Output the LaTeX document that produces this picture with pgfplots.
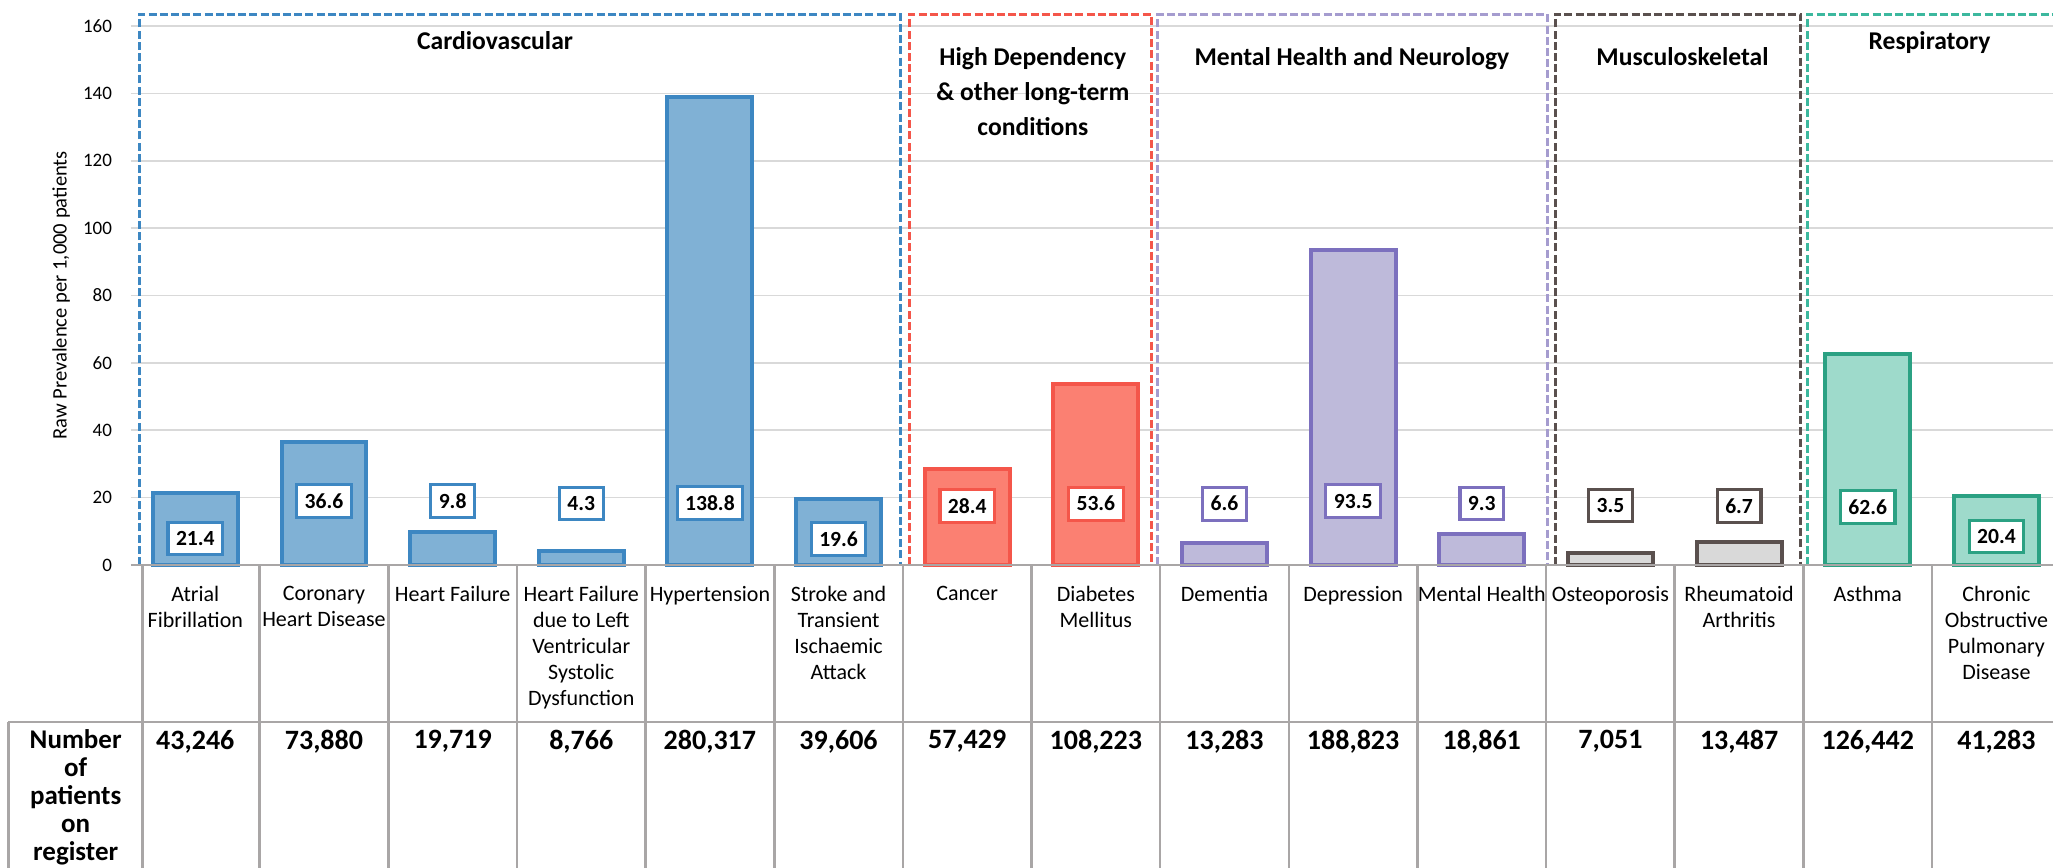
\documentclass[border=0pt]{standalone}
\usepackage{pgfplots}
\pgfplotsset{compat=1.18}
\usepackage{pgfplotstable}
\usepackage{fontspec}
\setmainfont{Carlito}

\definecolor{cvF}{HTML}{80B1D5}
\definecolor{cvD}{HTML}{3D87C2}
\definecolor{hdF}{HTML}{FB8072}
\definecolor{hdD}{HTML}{F4564A}
\definecolor{mhF}{HTML}{BEBADA}
\definecolor{mhD}{HTML}{7C70BE}
\definecolor{mhB}{HTML}{A59CCF}
\definecolor{msF}{HTML}{D9D9D9}
\definecolor{msD}{HTML}{5A504E}
\definecolor{rsF}{HTML}{9EDACB}
\definecolor{rsD}{HTML}{2BA183}
\definecolor{rsB}{HTML}{3CB89E}
\definecolor{gridgray}{HTML}{D9D9D9}
\definecolor{tabgray}{HTML}{A9A6A6}

% x = category position, v = prevalence per 1,000, lab = label text, ly = label position
\pgfplotstableread{
x v lab ly
0 21.4 21.4 7.8
1 36.6 36.6 19.0
2 9.8 9.8 19.0
3 4.3 4.3 18.2
4 138.8 138.8 18.4
5 19.6 19.6 7.8
}\cardio
\pgfplotstableread{
x v lab ly
6 28.4 28.4 17.6
7 53.6 53.6 18.2
}\highdep
\pgfplotstableread{
x v lab ly
8 6.6 6.6 18.2
9 93.5 93.5 19.0
10 9.3 9.3 18.2
}\mental
\pgfplotstableread{
x v lab ly
11 3.5 3.5 17.6
12 6.7 6.7 17.6
}\musculo
\pgfplotstableread{
x v lab ly
13 62.6 62.6 17.2
14 20.4 20.4 8.4
}\resp

\tikzset{
  vlab/.style={anchor=center, fill=white, draw=#1, line width=1.6pt, text=black,
    inner xsep=4pt, inner ysep=4.5pt, font=\bfseries\fontsize{10.8}{12}\selectfont},
  grpbox/.style={draw=#1, dashed, dash pattern=on 4pt off 1.6pt, line width=1.4pt},
  grplab/.style={anchor=north, inner sep=0pt, align=center, font=\bfseries\fontsize{12.8}{17.5}\selectfont},
  numcell/.style={anchor=north, yshift=-0.5pt, align=center, font=\bfseries\fontsize{14}{14.5}\selectfont},
  rowlab/.style={anchor=north, yshift=-0.3pt, align=center, font=\bfseries\fontsize{13.5}{14.05}\selectfont}
}

\begin{document}
\begin{tikzpicture}
\clip (-65.5pt,-151.5pt) rectangle (961pt,282.5pt);
\begin{axis}[
  scale only axis, width=961pt, height=269.5pt,
  xmin=-0.5, xmax=14.44, ymin=0, ymax=160,
  clip=false,
  axis line style={draw=none},
  tick style={draw=none},
  ytick={0,20,...,160},
  ymajorgrids, grid style={draw=gridgray, line width=0.8pt},
  /pgf/number format/assume math mode=true,
  yticklabel style={font=\fontsize{9.5}{11}\selectfont, xshift=-6pt},
  ylabel={Raw Prevalence per 1,000 patients},
  ylabel style={font=\fontsize{10.3}{12}\selectfont, at={(axis description cs:-0.0364,0.5)}, anchor=center},
  xtick={0,...,14},
  xticklabels={{Atrial\\Fibrillation},{Coronary\\Heart Disease},{Heart Failure},{Heart Failure\\due to Left\\Ventricular\\Systolic\\Dysfunction},{Hypertension},{Stroke and\\Transient\\Ischaemic\\Attack},{Cancer},{Diabetes\\Mellitus},{Dementia},{Depression},{Mental Health},{Osteoporosis},{Rheumatoid\\Arthritis},{Asthma},{Chronic\\Obstructive\\Pulmonary\\Disease}},
  xticklabel style={align=center, anchor=north, yshift=-7pt, font=\fontsize{11}{13}\selectfont},
]
% bars
\addplot[ybar, bar width=0.66, bar shift=0pt, fill=cvF, draw=cvD, line width=2pt] table[x=x,y=v]{\cardio};
\addplot[ybar, bar width=0.66, bar shift=0pt, fill=hdF, draw=hdD, line width=2pt] table[x=x,y=v]{\highdep};
\addplot[ybar, bar width=0.66, bar shift=0pt, fill=mhF, draw=mhD, line width=2pt] table[x=x,y=v]{\mental};
\addplot[ybar, bar width=0.66, bar shift=0pt, fill=msF, draw=msD, line width=2pt] table[x=x,y=v]{\musculo};
\addplot[ybar, bar width=0.66, bar shift=0pt, fill=rsF, draw=rsD, line width=2pt] table[x=x,y=v]{\resp};
% value labels
\addplot[draw=none, mark=none, nodes near coords, point meta=explicit symbolic, every node near coord/.append style={vlab=cvD}] table[x=x,y=ly,meta=lab]{\cardio};
\addplot[draw=none, mark=none, nodes near coords, point meta=explicit symbolic, every node near coord/.append style={vlab=hdD}] table[x=x,y=ly,meta=lab]{\highdep};
\addplot[draw=none, mark=none, nodes near coords, point meta=explicit symbolic, every node near coord/.append style={vlab=mhD}] table[x=x,y=ly,meta=lab]{\mental};
\addplot[draw=none, mark=none, nodes near coords, point meta=explicit symbolic, every node near coord/.append style={vlab=msD}] table[x=x,y=ly,meta=lab]{\musculo};
\addplot[draw=none, mark=none, nodes near coords, point meta=explicit symbolic, every node near coord/.append style={vlab=rsD}] table[x=x,y=ly,meta=lab]{\resp};

% group boxes
\draw[grpbox=cvD] (axis cs:-0.435,0) -- (axis cs:-0.435,163.5) -- (axis cs:5.48,163.5) -- (axis cs:5.48,0);
\draw[grpbox=hdD] (axis cs:5.55,0) -- (axis cs:5.55,163.5) -- (axis cs:7.43,163.5) -- (axis cs:7.43,0);
\draw[grpbox=mhB] (axis cs:7.48,0) -- (axis cs:7.48,163.5) -- (axis cs:10.51,163.5) -- (axis cs:10.51,0);
\draw[grpbox=msD] (axis cs:10.57,0) -- (axis cs:10.57,163.5) -- (axis cs:12.48,163.5) -- (axis cs:12.48,0);
\draw[grpbox=rsB] (axis cs:12.53,0) -- (axis cs:12.53,163.5) -- (axis cs:14.7,163.5) -- (axis cs:14.7,0);

% group labels
\node[grplab] at (axis cs:2.33,158.4) {Cardiovascular};
\node[grplab] at (axis cs:6.51,153.6) {High Dependency\\\& other long-term\\conditions};
\node[grplab] at (axis cs:8.99,153.6) {Mental Health and Neurology};
\node[grplab] at (axis cs:11.56,153.6) {Musculoskeletal};
\node[grplab] at (axis cs:13.48,158.4) {Respiratory};

% data table lines
\draw[tabgray, line width=1.4pt] (axis cs:-0.5,0) -- (axis cs:14.7,0);
\draw[tabgray, line width=1.3pt] (axis cs:-1.454,-46.6) -- (axis cs:14.7,-46.6);
\draw[tabgray, line width=1.3pt]
  (axis cs:-1.454,-46.6) -- (axis cs:-1.454,-95)
  (axis cs:-0.41,0) -- (axis cs:-0.41,-95)
  (axis cs:0.5,0) -- (axis cs:0.5,-95)
  (axis cs:1.5,0) -- (axis cs:1.5,-95)
  (axis cs:2.5,0) -- (axis cs:2.5,-95)
  (axis cs:3.5,0) -- (axis cs:3.5,-95)
  (axis cs:4.5,0) -- (axis cs:4.5,-95)
  (axis cs:5.5,0) -- (axis cs:5.5,-95)
  (axis cs:6.5,0) -- (axis cs:6.5,-95)
  (axis cs:7.5,0) -- (axis cs:7.5,-95)
  (axis cs:8.5,0) -- (axis cs:8.5,-95)
  (axis cs:9.5,0) -- (axis cs:9.5,-95)
  (axis cs:10.5,0) -- (axis cs:10.5,-95)
  (axis cs:11.5,0) -- (axis cs:11.5,-95)
  (axis cs:12.5,0) -- (axis cs:12.5,-95)
  (axis cs:13.5,0) -- (axis cs:13.5,-95)
  (axis cs:14.5,0) -- (axis cs:14.5,-95);

% number of patients row
\node[rowlab] at (axis cs:-0.93,-46.6) {Number\\of\\patients\\on\\register};
\node[numcell] at (axis cs:0,-46.6) {43,246};
\node[numcell] at (axis cs:1,-46.6) {73,880};
\node[numcell] at (axis cs:2,-46.6) {19,719};
\node[numcell] at (axis cs:3,-46.6) {8,766};
\node[numcell] at (axis cs:4,-46.6) {280,317};
\node[numcell] at (axis cs:5,-46.6) {39,606};
\node[numcell] at (axis cs:6,-46.6) {57,429};
\node[numcell] at (axis cs:7,-46.6) {108,223};
\node[numcell] at (axis cs:8,-46.6) {13,283};
\node[numcell] at (axis cs:9,-46.6) {188,823};
\node[numcell] at (axis cs:10,-46.6) {18,861};
\node[numcell] at (axis cs:11,-46.6) {7,051};
\node[numcell] at (axis cs:12,-46.6) {13,487};
\node[numcell] at (axis cs:13,-46.6) {126,442};
\node[numcell] at (axis cs:14,-46.6) {41,283};
\end{axis}
\end{tikzpicture}
\end{document}
